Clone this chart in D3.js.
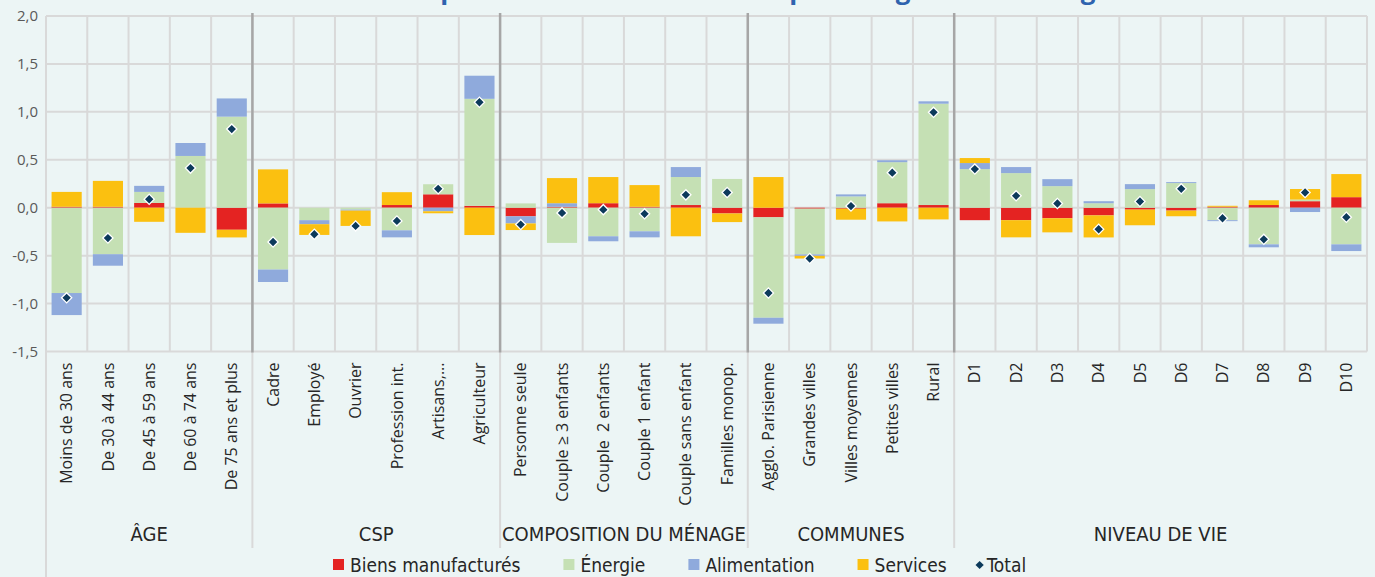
<!DOCTYPE html>
<html>
<head>
<meta charset="utf-8">
<script src="https://cdn.jsdelivr.net/npm/d3@7"></script>
<style>
  html, body { margin: 0; padding: 0; background: #ecf5f5; }
  svg { display: block; }
  .tick text { font-family: "Open Sans", sans-serif; white-space: pre; }
  .narrow { font-family: "Liberation Sans Narrow", "DejaVu Sans Condensed", sans-serif; }
</style>
</head>
<body>
<div class="chart"></div>
<script>
"use strict";

// ----------------------------------------
//  Data
// ----------------------------------------
const categories = [
    "Moins de 30 ans", "De 30 à 44 ans", "De 45 à 59 ans", "De 60 à 74 ans", "De 75 ans et plus",
    "Cadre", "Employé", "Ouvrier", "Profession int.", "Artisans,...", "Agriculteur",
    "Personne seule", "Couple ≥ 3 enfants", "Couple  2 enfants", "Couple 1 enfant", "Couple sans enfant", "Familles monop.",
    "Agglo. Parisienne", "Grandes villes", "Villes moyennes", "Petites villes", "Rural",
    "D1", "D2", "D3", "D4", "D5", "D6", "D7", "D8", "D9", "D10"
];
const group_names = ["ÂGE", "CSP", "COMPOSITION DU MÉNAGE", "COMMUNES", "NIVEAU DE VIE"];
const group_sizes = [5, 6, 6, 5, 10];

const series_names = ["Biens manufacturés", "Énergie", "Alimentation", "Services"];
const biens = [0.01, 0.01, 0.05, 0, -0.23,
    0.045, 0, 0, 0.028, 0.14, 0.02,
    -0.09, 0.01, 0.047, 0.01, 0.028, -0.06,
    -0.10, -0.01, -0.01, 0.047, 0.028,
    -0.13, -0.13, -0.11, -0.08, -0.02, -0.03, 0.01, 0.028, 0.068, 0.11];
const energie = [-0.89, -0.485, 0.115, 0.54, 0.95,
    -0.645, -0.13, -0.02, -0.236, 0.105, 1.116,
    0.045, -0.367, -0.298, -0.246, 0.292, 0.30,
    -1.048, -0.477, 0.118, 0.428, 1.057,
    0.403, 0.361, 0.225, 0.047, 0.194, 0.257, -0.13, -0.382, 0.017, -0.382];
const alimentation = [-0.23, -0.12, 0.063, 0.135, 0.19,
    -0.13, -0.042, -0.01, -0.073, -0.037, 0.241,
    -0.074, 0.037, -0.052, -0.063, 0.104, 0,
    -0.062, -0.015, 0.021, 0.02, 0.025,
    0.063, 0.063, 0.073, 0.021, 0.052, 0.01, -0.01, -0.031, -0.045, -0.07];
const services = [0.155, 0.27, -0.147, -0.262, -0.08,
    0.355, -0.112, -0.16, 0.134, -0.021, -0.285,
    -0.069, 0.262, 0.273, 0.226, -0.298, -0.09,
    0.32, -0.028, -0.115, -0.143, -0.122,
    0.052, -0.179, -0.147, -0.23, -0.163, -0.059, 0.01, 0.05, 0.11, 0.241];
const total = [-0.94, -0.317, 0.088, 0.413, 0.82,
    -0.358, -0.277, -0.19, -0.138, 0.197, 1.10,
    -0.176, -0.054, -0.02, -0.064, 0.134, 0.159,
    -0.89, -0.53, 0.017, 0.366, 0.995,
    0.403, 0.124, 0.044, -0.225, 0.065, 0.197, -0.11, -0.33, 0.159, -0.10];

const y_ticks = [-1.5, -1.0, -0.5, 0, 0.5, 1.0, 1.5, 2.0];

// ----------------------------------------
//  Appearance settings
// ----------------------------------------
let width = 1375;
let height = 577;
let plot = {left: 46, right: 1367, top: 16, bottom: 351.5};
let label_bottom = 548;
let colors = ["#e42322", "#c5e0b4", "#8faadc", "#fbc010"];
let total_color = "#0c3a5b";
let grid_color = "#d9d9d9";
let sep_color = "#a6a6a6";
let text_color = "#262626";

let svg = d3.select(".chart")
    .append("svg")
    .attr("width", width)
    .attr("height", height);

svg.append("rect")
    .attr("width", width)
    .attr("height", height)
    .attr("fill", "#ecf5f5");

// title, mostly cut off at the top of the picture (as in the reference)
svg.append("text")
    .attr("x", 406)
    .attr("y", -1)
    .attr("fill", "#2f63ae")
    .style("font-family", "Open Sans, sans-serif")
    .style("font-weight", "bold")
    .style("font-size", "26px")
    .text("Impact total et contributions par catégorie de ménage");

// ----------------------------------------
//  Scales
// ----------------------------------------
let x_scale = d3.scaleBand()
    .domain(categories)
    .range([plot.left, plot.right])
    .paddingInner(0.27)
    .paddingOuter(0.135);

let y_scale = d3.scaleLinear()
    .domain([-1.5, 2.0])
    .range([plot.bottom, plot.top]);

let step = x_scale.step();

// ----------------------------------------
//  Grid
// ----------------------------------------
svg.append("g")
    .selectAll("line")
    .data(y_ticks)
    .join("line")
    .attr("x1", plot.left)
    .attr("x2", plot.right)
    .attr("y1", d => y_scale(d))
    .attr("y2", d => y_scale(d))
    .attr("stroke", grid_color)
    .attr("stroke-width", 2);

svg.append("g")
    .selectAll("line")
    .data(d3.range(categories.length + 1))
    .join("line")
    .attr("x1", i => plot.left + i * step)
    .attr("x2", i => plot.left + i * step)
    .attr("y1", plot.top)
    .attr("y2", plot.bottom)
    .attr("stroke", grid_color)
    .attr("stroke-width", 2);

// left line goes all the way down
svg.append("line")
    .attr("x1", plot.left).attr("x2", plot.left)
    .attr("y1", plot.top).attr("y2", height)
    .attr("stroke", grid_color)
    .attr("stroke-width", 2);

// group boundaries
let bounds = d3.cumsum(group_sizes).slice(0, -1);
let starts = [0].concat(Array.from(d3.cumsum(group_sizes)));

svg.append("g")
    .selectAll("line")
    .data(bounds)
    .join("line")
    .attr("x1", n => plot.left + n * step)
    .attr("x2", n => plot.left + n * step)
    .attr("y1", plot.bottom)
    .attr("y2", label_bottom)
    .attr("stroke", grid_color)
    .attr("stroke-width", 2);

// ----------------------------------------
//  Bars
// ----------------------------------------
let rows = categories.map((c, i) => ({
    cat: c,
    "Biens manufacturés": biens[i],
    "Énergie": energie[i],
    "Alimentation": alimentation[i],
    "Services": services[i]
}));

let stacked = d3.stack()
    .keys(series_names)
    .offset(d3.stackOffsetDiverging)(rows);

svg.append("g")
    .selectAll("g")
    .data(stacked)
    .join("g")
    .attr("fill", (d, i) => colors[i])
    .selectAll("rect")
    .data(d => d)
    .join("rect")
    .attr("x", d => x_scale(d.data.cat))
    .attr("width", x_scale.bandwidth())
    .attr("y", d => y_scale(Math.max(d[0], d[1])))
    .attr("height", d => Math.abs(y_scale(d[0]) - y_scale(d[1])));

// dark separators drawn above the bars
svg.append("g")
    .selectAll("line")
    .data(bounds)
    .join("line")
    .attr("x1", n => plot.left + n * step)
    .attr("x2", n => plot.left + n * step)
    .attr("y1", plot.top - 3)
    .attr("y2", plot.bottom + 1)
    .attr("stroke", sep_color)
    .attr("stroke-width", 2.5);

// total diamonds
let diamond = d3.symbol().type(d3.symbolSquare).size(52);
svg.append("g")
    .selectAll("path")
    .data(total)
    .join("path")
    .attr("d", diamond)
    .attr("transform", (d, i) => "translate(" + (x_scale(categories[i]) + x_scale.bandwidth() / 2) + "," + y_scale(d) + ") rotate(45)")
    .attr("fill", total_color)
    .attr("stroke", "#ffffff")
    .attr("stroke-width", 1.3);

// ----------------------------------------
//  Axes
// ----------------------------------------
let y_axis = svg.append("g")
    .attr("transform", "translate(" + plot.left + ",0)")
    .call(d3.axisLeft(y_scale)
        .tickValues(y_ticks)
        .tickSize(0)
        .tickPadding(8)
        .tickFormat(d => d.toFixed(1).replace(".", ",")));
y_axis.select(".domain").remove();
y_axis.selectAll("text")
    .attr("fill", "#595959")
    .style("font-size", "15px");

let x_axis = svg.append("g")
    .attr("transform", "translate(0," + plot.bottom + ")")
    .call(d3.axisBottom(x_scale).tickSize(0));
x_axis.select(".domain").remove();
x_axis.selectAll("text")
    .attr("transform", "rotate(-90)")
    .attr("text-anchor", "end")
    .attr("x", -11)
    .attr("y", 0)
    .attr("dy", "0.35em")
    .attr("fill", text_color)
    .style("font-size", "16px");

// group labels
svg.append("g")
    .selectAll("text")
    .data(group_names)
    .join("text")
    .attr("class", "narrow")
    .attr("x", (d, i) => plot.left + (starts[i] + group_sizes[i] / 2) * step)
    .attr("y", 541)
    .attr("text-anchor", "middle")
    .attr("fill", text_color)
    .style("font-size", "20px")
    .text(d => d);

// ----------------------------------------
//  Legend
// ----------------------------------------
let legend = svg.append("g").attr("transform", "translate(333,565)");
let lx = 0;
series_names.concat(["Total"]).forEach(function(name, i) {
    if (i === 4) lx -= 14;  // the last entry sits closer
    let item = legend.append("g").attr("transform", "translate(" + lx + ",0)");
    if (i < 4) {
        item.append("rect")
            .attr("x", 0).attr("y", -6)
            .attr("width", 11).attr("height", 11)
            .attr("fill", colors[i]);
    } else {
        item.append("path")
            .attr("d", d3.symbol().type(d3.symbolSquare).size(34))
            .attr("transform", "translate(4,0) rotate(45)")
            .attr("fill", total_color);
    }
    let t = item.append("text")
        .attr("class", "narrow")
        .attr("x", i < 4 ? 17 : 11)
        .attr("y", 0)
        .attr("dy", "0.35em")
        .attr("fill", text_color)
        .style("font-size", "19px")
        .text(name);
    lx += (i < 4 ? 17 : 11) + t.node().getComputedTextLength() + 43;
});
</script>
</body>
</html>
